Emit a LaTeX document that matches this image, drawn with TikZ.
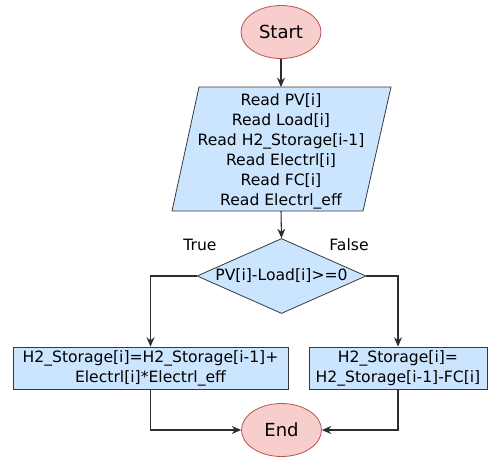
\documentclass[tikz,border=0pt]{standalone}
\usepackage{fontspec}
\setmainfont{DejaVu Sans}
\usetikzlibrary{shapes.geometric,arrows.meta}
\definecolor{pinkfill}{HTML}{F8CECC}
\definecolor{pinkline}{HTML}{B85450}
\definecolor{bluefill}{HTML}{CCE5FF}
\definecolor{grayline}{HTML}{36393D}
\tikzset{
  term/.style={ellipse,draw=pinkline,fill=pinkfill,line width=0.6pt,minimum width=80*0.75pt,minimum height=53*0.75pt,inner sep=0pt,font=\fontsize{13.5pt}{16pt}\selectfont},
  procbox/.style={rectangle,draw=grayline,fill=bluefill,line width=0.6pt,inner sep=0pt,align=center},
  conn/.style={draw=grayline!80!black,line width=0.8pt,-{Stealth[length=7pt,width=6pt]}},
  txt/.style={font=\fontsize{11.7pt}{15pt}\selectfont}
}
\begin{document}
\begin{tikzpicture}[x=0.75pt,y=-0.75pt,every node/.style={txt}]
\useasboundingbox (0,0) rectangle (492,462);
% start
\node[term] (start) at (281,32) {Start};
% input parallelogram
\filldraw[draw=grayline,fill=bluefill,line width=0.6pt] (199,87) -- (391,87) -- (363,211) -- (172,211) -- cycle;
\node[align=center,inner sep=0pt] (inp) at (281,151) {Read PV[i]\\Read Load[i]\\Read H2\_Storage[i-1]\\Read Electrl[i]\\Read FC[i]\\Read Electrl\_eff};
\coordinate (inpT) at (281,87);
\coordinate (inpB) at (281,211);
% decision
\node[diamond,draw=grayline,fill=bluefill,line width=0.6pt,minimum width=169*0.75pt,minimum height=75*0.75pt,inner sep=0pt,aspect=2.25] (dec) at (281.5,276) {};
\node (dectext) at (281.5,276) {PV[i]-Load[i]>=0};
\node (true) at (200,245) {True};
\node (false) at (349,245) {False};
% process boxes
\node[procbox,minimum width=275*0.75pt,minimum height=42*0.75pt] (left) at (150.5,368) {H2\_Storage[i]=H2\_Storage[i-1]+\\Electrl[i]*Electrl\_eff};
\node[procbox,minimum width=178*0.75pt,minimum height=42*0.75pt] (right) at (398,368) {H2\_Storage[i]=\\H2\_Storage[i-1]-FC[i]};
% end
\node[term] (end) at (281.5,430) {End};
% connectors
\draw[conn] (start) -- (inpT);
\draw[conn] (inpB) -- (dec.north);
\draw[conn] (dec.west) -| (left.north);
\draw[conn] (dec.east) -| (right.north);
\draw[conn] (left.south) |- (end.west);
\draw[conn] (right.south) |- (end.east);
\end{tikzpicture}
\end{document}
